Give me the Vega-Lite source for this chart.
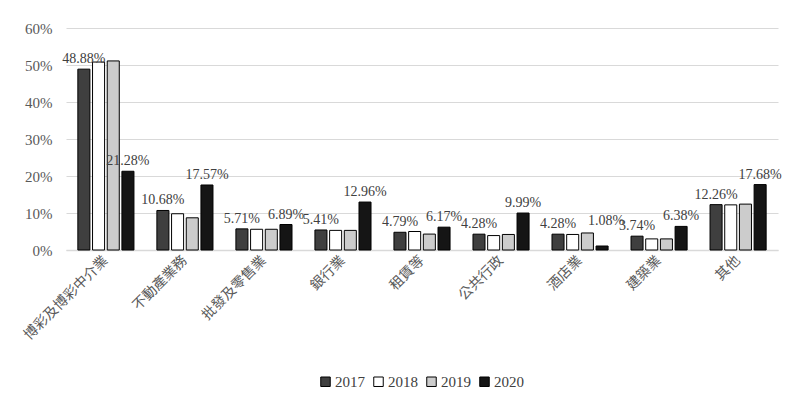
{
  "$schema": "https://vega.github.io/schema/vega-lite/v6.json",
  "width": 712,
  "height": 222,
  "autosize": {"type": "none"},
  "padding": {"left": 66, "top": 28, "right": 21, "bottom": 153},
  "background": "white",
  "config": {
    "view": {"stroke": null},
    "font": "Liberation Serif"
  },
  "data": {
    "values": [
      {"industry": "博彩及博彩中介業", "year": "2017", "value": 0.4888},
      {"industry": "博彩及博彩中介業", "year": "2018", "value": 0.508},
      {"industry": "博彩及博彩中介業", "year": "2019", "value": 0.511},
      {"industry": "博彩及博彩中介業", "year": "2020", "value": 0.2128},
      {"industry": "不動產業務", "year": "2017", "value": 0.1068},
      {"industry": "不動產業務", "year": "2018", "value": 0.098},
      {"industry": "不動產業務", "year": "2019", "value": 0.087},
      {"industry": "不動產業務", "year": "2020", "value": 0.1757},
      {"industry": "批發及零售業", "year": "2017", "value": 0.0571},
      {"industry": "批發及零售業", "year": "2018", "value": 0.056},
      {"industry": "批發及零售業", "year": "2019", "value": 0.056},
      {"industry": "批發及零售業", "year": "2020", "value": 0.0689},
      {"industry": "銀行業", "year": "2017", "value": 0.0541},
      {"industry": "銀行業", "year": "2018", "value": 0.053},
      {"industry": "銀行業", "year": "2019", "value": 0.053},
      {"industry": "銀行業", "year": "2020", "value": 0.1296},
      {"industry": "租賃等", "year": "2017", "value": 0.0479},
      {"industry": "租賃等", "year": "2018", "value": 0.050},
      {"industry": "租賃等", "year": "2019", "value": 0.043},
      {"industry": "租賃等", "year": "2020", "value": 0.0617},
      {"industry": "公共行政", "year": "2017", "value": 0.0428},
      {"industry": "公共行政", "year": "2018", "value": 0.039},
      {"industry": "公共行政", "year": "2019", "value": 0.042},
      {"industry": "公共行政", "year": "2020", "value": 0.0999},
      {"industry": "酒店業", "year": "2017", "value": 0.0428},
      {"industry": "酒店業", "year": "2018", "value": 0.042},
      {"industry": "酒店業", "year": "2019", "value": 0.046},
      {"industry": "酒店業", "year": "2020", "value": 0.0108},
      {"industry": "建築業", "year": "2017", "value": 0.0374},
      {"industry": "建築業", "year": "2018", "value": 0.030},
      {"industry": "建築業", "year": "2019", "value": 0.030},
      {"industry": "建築業", "year": "2020", "value": 0.0638},
      {"industry": "其他", "year": "2017", "value": 0.1226},
      {"industry": "其他", "year": "2018", "value": 0.122},
      {"industry": "其他", "year": "2019", "value": 0.124},
      {"industry": "其他", "year": "2020", "value": 0.1768}
    ]
  },
  "encoding": {
    "x": {
      "field": "industry",
      "type": "nominal",
      "sort": null,
      "scale": {"paddingInner": 0.29, "paddingOuter": 0.15},
      "axis": {
        "title": null,
        "labelAngle": -45,
        "labelAlign": "right",
        "labelBaseline": "middle",
        "labelFont": "Noto Sans CJK TC",
        "labelFontSize": 14,
        "labelColor": "#595959",
        "labelPadding": 8,
        "ticks": false,
        "domainColor": "#d9d9d9",
        "domainWidth": 1.5
      }
    },
    "xOffset": {"field": "year", "type": "nominal", "scale": {"paddingInner": 0.18}},
    "y": {
      "field": "value",
      "type": "quantitative",
      "scale": {"domain": [0, 0.6]},
      "axis": {
        "title": null,
        "format": "0%",
        "values": [0, 0.1, 0.2, 0.3, 0.4, 0.5, 0.6],
        "labelFont": "Liberation Serif",
        "labelFontSize": 15,
        "labelColor": "#595959",
        "labelPadding": 14,
        "ticks": false,
        "domain": false,
        "gridColor": "#d9d9d9",
        "gridWidth": 1.2
      }
    }
  },
  "layer": [
    {
      "mark": {"type": "bar", "stroke": "#000000", "strokeWidth": 1},
      "encoding": {
        "fill": {
          "field": "year",
          "type": "nominal",
          "scale": {
            "domain": ["2017", "2018", "2019", "2020"],
            "range": ["#3f3f3f", "#ffffff", "#cccccc", "#151515"]
          },
          "legend": {
            "title": null,
            "orient": "none",
            "direction": "horizontal",
            "legendX": 252,
            "legendY": 346,
            "symbolType": "square",
            "symbolSize": 90,
            "symbolStrokeColor": "#000000",
            "symbolStrokeWidth": 1,
            "labelFont": "Liberation Serif",
            "labelFontSize": 15,
            "labelColor": "#404040",
            "labelOffset": 2,
            "columnPadding": 6
          }
        }
      }
    },
    {
      "transform": [{"filter": "(datum.year == '2017' || datum.year == '2020') && datum.value >= 0.02"}],
      "mark": {
        "type": "text",
        "baseline": "bottom",
        "dy": -3,
        "font": "Liberation Serif",
        "fontSize": 14,
        "color": "#404040"
      },
      "encoding": {
        "text": {"field": "value", "type": "quantitative", "format": ".2%"}
      }
    },
    {
      "transform": [{"filter": "datum.year == '2020' && datum.value < 0.02"}],
      "mark": {
        "type": "text",
        "baseline": "bottom",
        "dy": -18,
        "dx": 4,
        "font": "Liberation Serif",
        "fontSize": 14,
        "color": "#404040"
      },
      "encoding": {
        "text": {"field": "value", "type": "quantitative", "format": ".2%"}
      }
    }
  ]
}
